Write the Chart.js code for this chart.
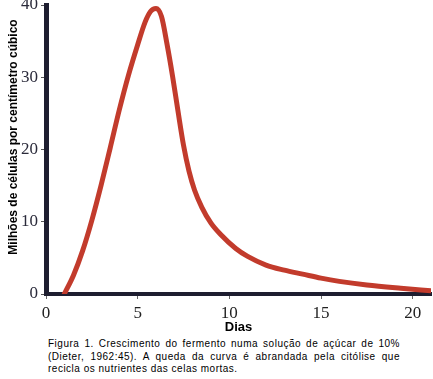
<!DOCTYPE html>
<html>
<head>
<meta charset="utf-8">
<script src="https://cdn.jsdelivr.net/npm/chart.js@4.4.1/dist/chart.umd.min.js"></script>
<style>
  body { margin: 0; background: #fff; }
  #wrap { position: relative; width: 433px; height: 379px; }
  #grafico { position: absolute; left: 0; top: 0; }
  #legenda {
    position: absolute; left: 48px; top: 338px; width: 352px;
    font: 10px "Liberation Sans", Arial, sans-serif;
    letter-spacing: 0.5px; line-height: 12.5px;
    text-align: justify; color: #000;
  }
</style>
</head>
<body>
<div id="wrap">
  <canvas id="grafico" width="433" height="335"></canvas>
  <div id="legenda">Figura 1. Crescimento do fermento numa solução de açúcar de 10% (Dieter, 1962:45). A queda da curva é abrandada pela citólise que recicla os nutrientes das celas mortas.</div>
</div>
<script>
// dados
const dias = [1, 1.5, 2, 2.5, 3, 3.5, 4, 4.5, 5, 5.4, 5.7, 6, 6.3, 6.6, 6.9, 7.2, 7.5, 7.8, 8.1, 8.5, 9, 9.5, 10.35, 11, 12, 13, 14, 15, 16, 17.5, 19.35, 21];
const celulas = [0, 2.6, 6, 10.2, 15, 20.2, 25.5, 30.3, 34.5, 37.6, 39.1, 39.5, 38.4, 34.6, 30.2, 25.3, 20.6, 17, 14.4, 12, 9.8, 8.3, 6.3, 5.2, 4, 3.3, 2.75, 2.2, 1.75, 1.25, 0.8, 0.45];
const ticksX = [0, 5, 10, 15, 20];
const ticksY = [0, 10, 20, 30, 40];
const tituloX = 'Dias';
const tituloY = 'Milhões de células por centímetro cúbico';

const corEixo = '#1e1e30';
const fonteSerif = 'Times New Roman';

// titulo do eixo y desenhado a mao para acertar a posicao
const tituloYPlugin = {
    id: 'tituloY',
    afterDraw(chart) {
        const ctx = chart.ctx;
        ctx.save();
        ctx.translate(14, 137);
        ctx.rotate(-Math.PI / 2);
        ctx.font = 'bold 12px "Liberation Sans", Arial, sans-serif';
        ctx.fillStyle = '#000';
        ctx.textAlign = 'center';
        ctx.textBaseline = 'middle';
        ctx.fillText(tituloY, 0, 0);
        ctx.restore();
    }
};

new Chart(document.getElementById('grafico'), {
    type: 'scatter',
    data: {
        datasets: [{
            data: dias.map((d, i) => ({ x: d, y: celulas[i] })),
            showLine: true,
            borderColor: '#c23b2c',
            borderWidth: 5,
            borderCapStyle: 'round',
            borderJoinStyle: 'round',
            pointRadius: 0,
            cubicInterpolationMode: 'monotone'
        }]
    },
    options: {
        responsive: false,
        animation: false,
        devicePixelRatio: 1,
        layout: { padding: { top: 5, right: 2, left: 0, bottom: 0 } },
        plugins: { legend: { display: false }, tooltip: { enabled: false } },
        scales: {
            x: {
                type: 'linear',
                min: 0, max: 21,
                afterBuildTicks: s => { s.ticks = ticksX.map(v => ({ value: v })); },
                afterFit: s => { s.height = 41; s.paddingLeft = 0; s.paddingRight = 0; },
                ticks: {
                    font: { family: fonteSerif, size: 17, lineHeight: 1 },
                    color: '#222', padding: 6, maxRotation: 0
                },
                grid: { drawOnChartArea: false, tickLength: 5, tickColor: '#666' },
                border: { color: corEixo, width: 4 },
                title: {
                    display: true, text: tituloX, color: '#000',
                    font: { family: '"Liberation Sans", Arial, sans-serif', size: 13, weight: 'bold' },
                    padding: { top: 0, bottom: 0 }
                }
            },
            y: {
                min: 0, max: 40,
                afterBuildTicks: s => { s.ticks = ticksY.map(v => ({ value: v })); },
                afterFit: s => { s.width = 46; s.paddingTop = 0; s.paddingBottom = 0; },
                ticks: {
                    font: { family: fonteSerif, size: 17, lineHeight: 1 },
                    color: '#2a2a3a', padding: 3
                },
                grid: { drawOnChartArea: false, tickLength: 5, tickColor: '#555' },
                border: { color: corEixo, width: 5 }
            }
        }
    },
    plugins: [tituloYPlugin]
});
</script>
</body>
</html>
